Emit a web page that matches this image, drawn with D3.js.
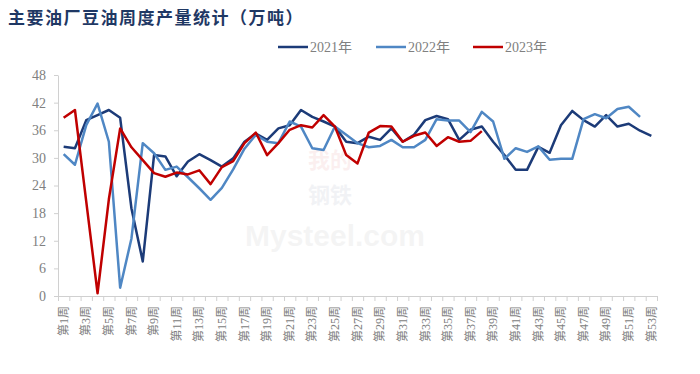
<!DOCTYPE html>
<html>
<head>
<meta charset="utf-8">
<script src="https://cdn.jsdelivr.net/npm/d3@7"></script>
<style>
  body { margin: 0; background: #fff; }
  svg { display: block; }
</style>
</head>
<body>
<div id="chart"></div>
<script>
// week numbers 1..53
const weeks = d3.range(1, 54);

const values2021 = [32.4, 32.1, 38.2, 39.3, 40.4, 38.7, 19.0, 7.5, 30.6, 30.3,
  26.0, 29.2, 30.8, 29.5, 28.1, 29.9, 33.5, 35.3, 33.9, 36.4,
  37.1, 40.4, 38.9, 37.9, 36.8, 33.5, 33.2, 34.6, 33.9, 36.4,
  33.5, 35.0, 38.2, 39.1, 38.4, 33.9, 36.1, 36.8, 33.5, 30.6,
  27.4, 27.4, 32.4, 31.1, 37.1, 40.2, 38.2, 36.8, 39.3, 36.8,
  37.4, 35.9, 34.8];

const values2022 = [30.8, 28.5, 37.1, 41.8, 33.5, 1.8, 12.5, 33.2, 31.0, 27.4,
  28.1, 25.8, 23.4, 20.9, 23.5, 27.5, 32.0, 35.0, 33.5, 33.2,
  37.9, 36.8, 32.1, 31.7, 36.8, 35.0, 33.2, 32.3, 32.6, 33.9,
  32.3, 32.3, 33.9, 38.4, 38.1, 38.1, 35.6, 40.0, 37.9, 29.8,
  32.1, 31.3, 32.5, 29.6, 29.8, 29.8, 38.4, 39.5, 38.6, 40.6,
  41.1, 38.9];

const values2023 = [38.7, 40.4, 20.5, 0.6, 21.0, 36.4, 32.3, 29.5, 26.7, 25.9,
  26.8, 26.4, 27.3, 24.3, 28.0, 29.3, 33.2, 35.5, 30.6, 33.2,
  36.1, 37.1, 36.6, 39.3, 36.8, 30.6, 28.8, 35.5, 36.9, 36.8,
  33.5, 34.8, 35.5, 32.6, 34.5, 33.5, 33.7, 35.8];

const seriesNames = ['2021年', '2022年', '2023年'];
const seriesColors = ['#1c3b78', '#4f87c4', '#c00000'];
const yTicks = [0, 6, 12, 18, 24, 30, 36, 42, 48];

const title = '主要油厂豆油周度产量统计（万吨）';

const width = 700;
const height = 374;
const margin = { top: 75, right: 43, bottom: 78, left: 58 };
const innerW = width - margin.left - margin.right;
const innerH = height - margin.top - margin.bottom;

const svg = d3.select('#chart')
  .append('svg')
  .attr('width', width)
  .attr('height', height);

svg.append('text')
  .attr('x', 8)
  .attr('y', 24)
  .attr('fill', '#1f3864')
  .style('font-family', '"Noto Sans CJK SC", sans-serif')
  .style('font-weight', 700)
  .style('font-size', '17px')
  .style('letter-spacing', '1.5px')
  .text(title);

// faint watermark
const wm = svg.append('g').attr('opacity', 0.06);
wm.append('text')
  .attr('x', 330).attr('y', 168)
  .attr('text-anchor', 'middle')
  .attr('fill', '#c00000')
  .style('font-family', '"Noto Sans CJK SC", sans-serif')
  .style('font-weight', 700)
  .style('font-size', '22px')
  .text('我的');
wm.append('text')
  .attr('x', 330).attr('y', 203)
  .attr('text-anchor', 'middle')
  .attr('fill', '#1f3864')
  .style('font-family', '"Noto Sans CJK SC", sans-serif')
  .style('font-weight', 700)
  .style('font-size', '22px')
  .text('钢铁');
wm.append('text')
  .attr('x', 335).attr('y', 246)
  .attr('text-anchor', 'middle')
  .attr('fill', '#555')
  .style('font-family', 'Arial, sans-serif')
  .style('font-weight', 700)
  .style('font-size', '30px')
  .text('Mysteel.com');

const g = svg.append('g')
  .attr('transform', `translate(${margin.left}, ${margin.top})`);

const x = d3.scaleBand()
  .domain(weeks)
  .range([0, innerW])
  .paddingInner(0)
  .paddingOuter(0);

const y = d3.scaleLinear()
  .domain([0, 48])
  .range([innerH, 0]);

const cx = (w) => x(w) + x.bandwidth() / 2;

// y axis
const yAxis = g.append('g')
  .call(d3.axisLeft(y).tickValues(yTicks).tickSize(4).tickSizeOuter(0).tickPadding(8));
yAxis.select('.domain').attr('stroke', '#d0d0d0');
yAxis.selectAll('.tick line').attr('stroke', '#d0d0d0');
yAxis.selectAll('.tick text')
  .attr('fill', '#808080')
  .style('font-family', '"Liberation Serif", serif')
  .style('font-size', '14px');

// x axis: ticks on category boundaries
const xb = d3.scaleLinear().domain([0, weeks.length]).range([0, innerW]);
const xAxis = g.append('g')
  .attr('transform', `translate(0, ${innerH})`)
  .call(d3.axisBottom(xb).tickValues(d3.range(0, weeks.length + 1)).tickFormat('').tickSize(5).tickSizeOuter(0));
xAxis.select('.domain').attr('stroke', '#d0d0d0');
xAxis.selectAll('.tick line').attr('stroke', '#d0d0d0');

g.append('g')
  .selectAll('text')
  .data(weeks.filter(w => w % 2 === 1))
  .enter()
  .append('text')
  .attr('transform', w => `translate(${cx(w)}, ${innerH + 10}) rotate(-90)`)
  .attr('text-anchor', 'end')
  .attr('dy', '0.35em')
  .attr('fill', '#808080')
  .style('font-family', '"Liberation Serif", "Noto Sans CJK SC", serif')
  .style('font-size', '12px')
  .text(w => `第${w}周`);

// lines
const line = d3.line()
  .x((d, i) => cx(weeks[i]))
  .y(d => y(d));

[values2021, values2022, values2023].forEach((vals, i) => {
  g.append('path')
    .datum(vals)
    .attr('fill', 'none')
    .attr('stroke', seriesColors[i])
    .attr('stroke-width', 2.5)
    .attr('stroke-linejoin', 'round')
    .attr('d', line);
});

// legend
const legendX = [278, 376, 473];
const legend = svg.append('g');
seriesNames.forEach((name, i) => {
  const lg = legend.append('g').attr('transform', `translate(${legendX[i]}, 47)`);
  lg.append('line')
    .attr('x1', 0).attr('x2', 30)
    .attr('y1', 0).attr('y2', 0)
    .attr('stroke', seriesColors[i])
    .attr('stroke-width', 2.5);
  lg.append('text')
    .attr('x', 32)
    .attr('dy', '0.35em')
    .attr('fill', '#808080')
    .style('font-family', '"Liberation Serif", "Noto Sans CJK SC", serif')
    .style('font-size', '14px')
    .text(name);
});
</script>
</body>
</html>
